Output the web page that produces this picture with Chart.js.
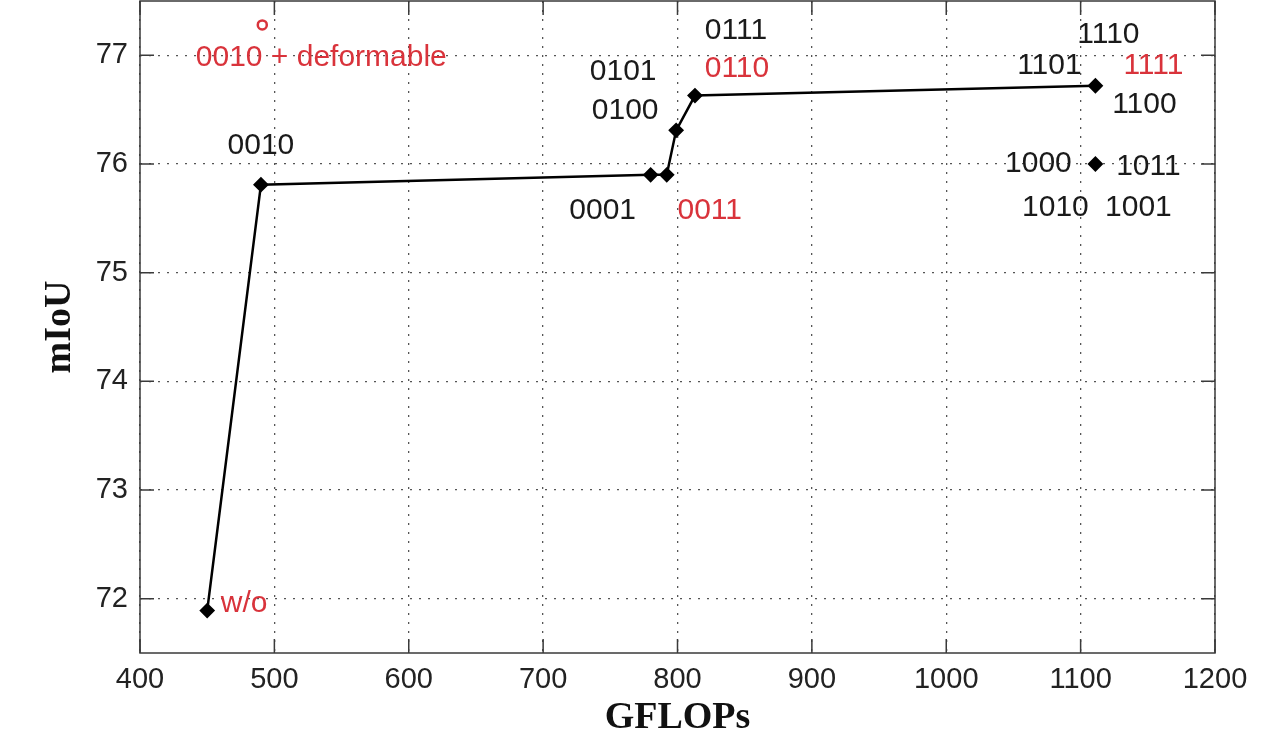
<!DOCTYPE html>
<html>
<head>
<meta charset="utf-8">
<script src="https://cdn.jsdelivr.net/npm/chart.js@4/dist/chart.umd.min.js"></script>
<style>
  html, body { margin: 0; padding: 0; background: #ffffff; }
  #wrap { width: 1281px; height: 744px; }
</style>
</head>
<body>
<div id="wrap"><canvas id="c" width="1281" height="744"></canvas></div>
<script>
// ---- data ----
const lineNames   = ['w/o', '0010', '0001', '0011', '0100', '0110', '1111'];
const lineGflops  = [450, 490, 780, 792, 799, 813, 1111];
const lineMiou    = [71.89, 75.81, 75.9, 75.9, 76.31, 76.63, 76.72];

const sepGflops   = [1111];
const sepMiou     = [76.0];

const deformGflops = [491];
const deformMiou   = [77.28];

const xTickValues = [400, 500, 600, 700, 800, 900, 1000, 1100, 1200];
const yTickValues = [72, 73, 74, 75, 76, 77];

// ---- styles / text placement ----
const RED = '#d9333b';
const BLACK = '#1a1a1a';
const LABEL_FONT = '30px "Liberation Sans", Arial, sans-serif';

// annotation texts attached to a data point (dataset index, point index) with a pixel offset
const annotations = [
  { text: 'w/o',  color: RED,   ds: 0, i: 0, dx: 37,  dy: -7 },
  { text: '0010', color: BLACK, ds: 0, i: 1, dx: 0,   dy: -39 },
  { text: '0001', color: BLACK, ds: 0, i: 2, dx: -48, dy: 36 },
  { text: '0011', color: RED,   ds: 0, i: 3, dx: 43,  dy: 36 },
  { text: '0100', color: BLACK, ds: 0, i: 4, dx: -51, dy: -20 },
  { text: '0101', color: BLACK, ds: 0, i: 4, dx: -53, dy: -59 },
  { text: '0110', color: RED,   ds: 0, i: 5, dx: 42,  dy: -27 },
  { text: '0111', color: BLACK, ds: 0, i: 5, dx: 41,  dy: -65 },
  { text: '1101', color: BLACK, ds: 0, i: 6, dx: -46, dy: -20 },
  { text: '1110', color: BLACK, ds: 0, i: 6, dx: 13,  dy: -51 },
  { text: '1111', color: RED,   ds: 0, i: 6, dx: 58,  dy: -20 },
  { text: '1100', color: BLACK, ds: 0, i: 6, dx: 49,  dy: 19 },
  { text: '1000', color: BLACK, ds: 1, i: 0, dx: -57, dy: 0 },
  { text: '1011', color: BLACK, ds: 1, i: 0, dx: 53,  dy: 3 },
  { text: '1010', color: BLACK, ds: 1, i: 0, dx: -40, dy: 44 },
  { text: '1001', color: BLACK, ds: 1, i: 0, dx: 43,  dy: 44 },
  { text: '0010 + deformable', color: RED, ds: 2, i: 0, dx: 59, dy: 33 }
];

const toPts = (xs, ys) => xs.map((x, k) => ({ x: x, y: ys[k] }));

// frame + inward tick marks (MATLAB style)
const framePlugin = {
  id: 'frame',
  afterDatasetsDraw(chart) {
    const { ctx, chartArea: a, scales } = chart;
    const TL = 14;
    ctx.save();
    ctx.strokeStyle = '#3a3a3a';
    ctx.lineWidth = 1.5;
    ctx.beginPath();
    scales.x.ticks.forEach(t => {
      const px = scales.x.getPixelForValue(t.value);
      ctx.moveTo(px, a.bottom); ctx.lineTo(px, a.bottom - TL);
      ctx.moveTo(px, a.top);    ctx.lineTo(px, a.top + TL);
    });
    scales.y.ticks.forEach(t => {
      const py = scales.y.getPixelForValue(t.value);
      ctx.moveTo(a.left, py);  ctx.lineTo(a.left + TL, py);
      ctx.moveTo(a.right, py); ctx.lineTo(a.right - TL, py);
    });
    ctx.stroke();
    ctx.strokeRect(a.left, a.top, a.right - a.left, a.bottom - a.top);
    ctx.restore();
  }
};

const labelPlugin = {
  id: 'pointLabels',
  afterDraw(chart) {
    const { ctx } = chart;
    ctx.save();
    ctx.font = LABEL_FONT;
    ctx.textAlign = 'center';
    ctx.textBaseline = 'middle';
    annotations.forEach(a => {
      const el = chart.getDatasetMeta(a.ds).data[a.i];
      ctx.fillStyle = a.color;
      ctx.fillText(a.text, el.x + a.dx, el.y + a.dy);
    });
    ctx.restore();
  }
};

const bgPlugin = {
  id: 'bg',
  beforeDraw(chart) {
    const { ctx } = chart;
    ctx.save();
    ctx.fillStyle = '#ffffff';
    ctx.fillRect(0, 0, chart.width, chart.height);
    ctx.restore();
  }
};

new Chart(document.getElementById('c'), {
  type: 'scatter',
  data: {
    datasets: [
      {
        label: 'path',
        data: toPts(lineGflops, lineMiou),
        showLine: true,
        borderColor: '#000000',
        borderWidth: 2.5,
        backgroundColor: '#000000',
        pointStyle: 'rectRot',
        pointRadius: 6.5,
        pointBorderWidth: 2,
        pointBorderColor: '#000000',
        tension: 0
      },
      {
        label: 'other',
        data: toPts(sepGflops, sepMiou),
        showLine: false,
        backgroundColor: '#000000',
        borderColor: '#000000',
        pointStyle: 'rectRot',
        pointRadius: 6.5,
        pointBorderWidth: 2
      },
      {
        label: 'deformable',
        data: toPts(deformGflops, deformMiou),
        showLine: false,
        backgroundColor: 'rgba(0,0,0,0)',
        borderColor: RED,
        pointStyle: 'circle',
        pointRadius: 4.5,
        pointBorderWidth: 2.5
      }
    ]
  },
  options: {
    responsive: false,
    animation: false,
    layout: { autoPadding: false, padding: { left: 0, right: 66, top: 1, bottom: 0 } },
    plugins: {
      legend: { display: false },
      tooltip: { enabled: false }
    },
    scales: {
      x: {
        type: 'linear',
        min: 400,
        max: 1200,
        afterFit(scale) {
          scale.height = 91;
          scale.paddingLeft = 0; scale.paddingRight = 0;
          scale.paddingTop = 0; scale.paddingBottom = 0;
        },
        afterBuildTicks(scale) { scale.ticks = xTickValues.map(v => ({ value: v })); },
        ticks: {
          font: { family: '"Liberation Sans", Arial, sans-serif', size: 29 },
          color: '#222222',
          padding: 10,
          maxRotation: 0,
          autoSkip: false,
          callback: (v) => String(v)
        },
        grid: {
          color: '#555555',
          lineWidth: 1.3,
          drawTicks: false
        },
        border: { display: false, dash: [2, 7] },
        title: {
          display: true,
          text: 'GFLOPs',
          color: '#111111',
          font: { family: '"Liberation Serif", "Times New Roman", serif', size: 38, weight: 'bold' },
          padding: { top: 0, bottom: 3 }
        }
      },
      y: {
        type: 'linear',
        min: 71.5,
        max: 77.5,
        afterFit(scale) {
          scale.width = 140;
          scale.paddingTop = 0; scale.paddingBottom = 0;
          scale.paddingLeft = 0; scale.paddingRight = 0;
        },
        afterBuildTicks(scale) { scale.ticks = yTickValues.map(v => ({ value: v })); },
        ticks: {
          font: { family: '"Liberation Sans", Arial, sans-serif', size: 29 },
          color: '#222222',
          padding: 12,
          callback: (v) => String(v)
        },
        grid: {
          color: '#555555',
          lineWidth: 1.3,
          drawTicks: false
        },
        border: { display: false, dash: [2, 7] },
        title: {
          display: true,
          text: 'mIoU',
          color: '#111111',
          font: { family: '"Liberation Serif", "Times New Roman", serif', size: 38, weight: 'bold' },
          padding: { top: 37, bottom: 0 }
        }
      }
    }
  },
  plugins: [bgPlugin, framePlugin, labelPlugin]
});
</script>
</body>
</html>
